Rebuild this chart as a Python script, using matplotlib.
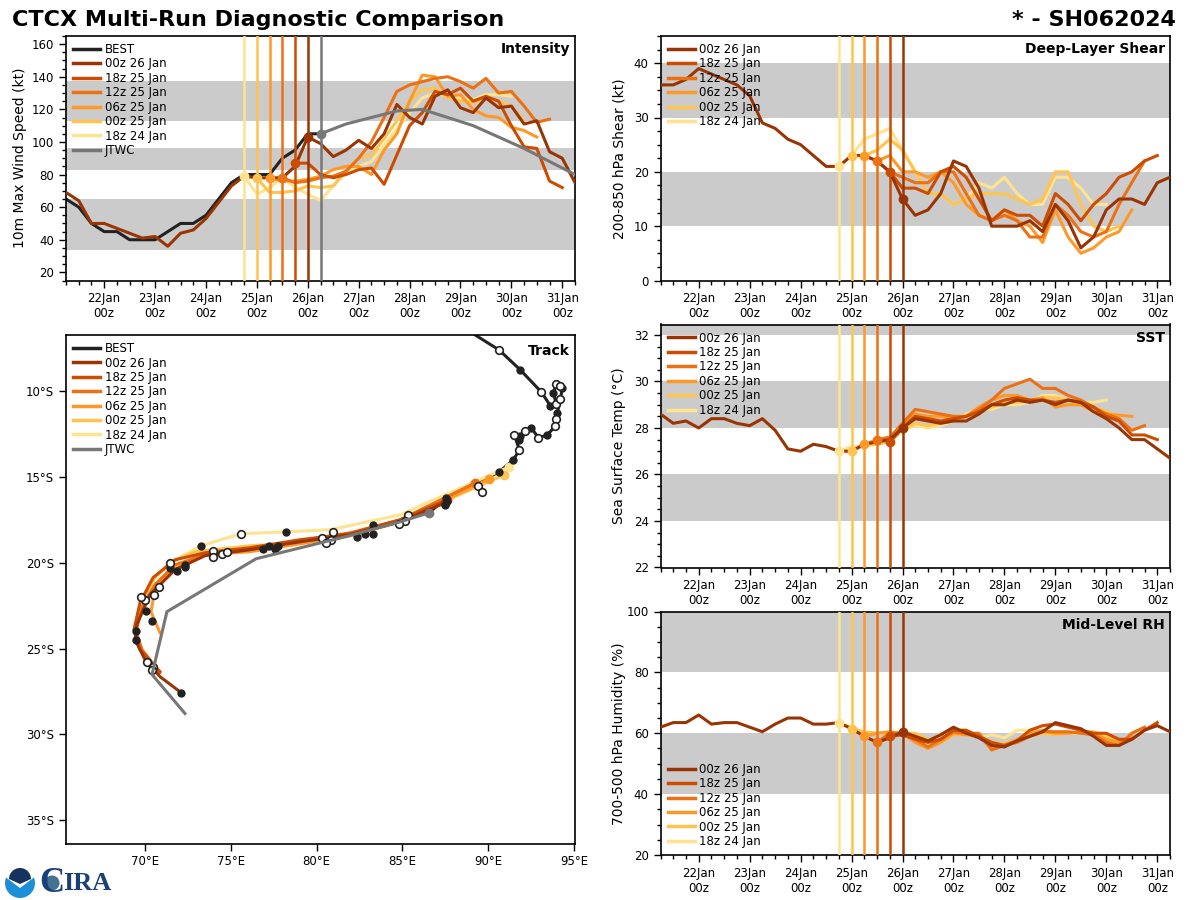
import numpy as np
import matplotlib
matplotlib.use('Agg')
import matplotlib.pyplot as plt
from matplotlib.patches import Circle, Wedge, Polygon
from matplotlib.ticker import MultipleLocator

# forecast runs, newest first
run_names = ['00z 26 Jan', '18z 25 Jan', '12z 25 Jan', '06z 25 Jan', '00z 25 Jan', '18z 24 Jan']
run_colors = ['#993404', '#cc4c02', '#ec7014', '#fe9929', '#fec44f', '#fee391']
run_starts = [21.25, 25.75, 25.5, 25.25, 25.0, 24.75]
run_inits = [26.0, 25.75, 25.5, 25.25, 25.0, 24.75]
day_ticks = [22, 23, 24, 25, 26, 27, 28, 29, 30, 31]

# intensity (kt)
best_vmax = [65, 60, 50, 45, 45, 40, 40, 40, 45, 50, 50, 55, 65, 75, 80, 80, 80, 90, 95, 105, 105]
jtwc_days = [26.25, 26.5, 26.75, 27.25, 27.75, 28.25, 29.25, 30.25, 31.25]
jtwc_vmax = [105, 108, 111, 115, 119, 120, 110, 96, 80]
vmax_runs = [
    [69, 64, 50, 50, 47, 44, 41, 42, 36, 44, 46, 53, 63, 73, 79, 78, 78, 78, 85, 103, 99, 91, 95, 101, 96,
     105, 123, 115, 111, 128, 132, 121, 118, 127, 121, 122, 111, 113, 94, 90, 75],
    [87, 87, 80, 78, 80, 83, 84, 74, 92, 110, 118, 131, 129, 133, 125, 128, 125, 110, 97, 96, 76, 72],
    [78, 75, 76, 78, 79, 82, 90, 100, 115, 131, 135, 137, 139, 140, 137, 133, 139, 130, 131, 122, 112, 114],
    [78, 76, 76, 77, 79, 83, 85, 85, 80, 95, 105, 125, 141, 140, 128, 129, 120, 116, 115, 109, 107, 103],
    [78, 69, 69, 70, 73, 72, 73, 82, 90, 92, 102, 113, 125, 132, 133, 127, 125, 124, 127, 125, 122, 113],
    [79, 68, 72, 78, 72, 68, 64, 73, 82, 85, 88, 98, 108, 118, 127, 130, 128, 127, 126, 129, 129, 128],
]

# deep layer shear (kt)
shear_runs = [
    [36, 36, 37, 39, 38, 37, 36, 34, 29, 28, 26, 25, 23, 21, 21, 23, 23, 22, 20, 15, 12, 13, 16, 22, 21,
     17, 10, 10, 10, 11, 9, 14, 11, 6, 8, 13, 15, 15, 14, 18, 19],
    [20, 17, 17, 16, 20, 21, 19, 15, 11, 13, 12, 12, 10, 16, 14, 11, 14, 16, 19, 20, 22, 23],
    [22, 20, 19, 18, 18, 20, 20, 16, 12, 11, 12, 11, 8, 8, 14, 12, 9, 8, 9, 14, 18, 22],
    [23, 22, 23, 20, 20, 19, 20, 18, 14, 12, 11, 13, 11, 10, 7, 13, 8, 5, 6, 8, 9, 13],
    [23, 23, 24, 26, 24, 20, 16, 16, 14, 15, 16, 16, 16, 15, 14, 15, 20, 20, 14, 10, 9, 10],
    [21, 23, 26, 27, 28, 24, 20, 16, 16, 14, 15, 18, 17, 19, 16, 14, 14, 19, 19, 17, 14, 14],
]

# sea surface temperature (C)
sst_runs = [
    [28.6, 28.2, 28.3, 28.0, 28.4, 28.4, 28.2, 28.1, 28.4, 27.9, 27.1, 27.0, 27.3, 27.2, 27.0, 27.0, 27.3,
     27.4, 27.5, 28.0, 28.4, 28.3, 28.2, 28.3, 28.3, 28.6, 29.0, 29.0, 29.2, 29.1, 29.2, 29.0, 29.2, 29.1,
     28.7, 28.4, 28.0, 27.5, 27.5, 27.1, 26.7],
    [27.4, 28.0, 28.5, 28.4, 28.3, 28.4, 28.5, 28.7, 29.0, 29.2, 29.3, 29.2, 29.2, 29.1, 29.2, 29.1, 28.9,
     28.5, 28.3, 27.7, 27.7, 27.5],
    [27.5, 27.6, 28.2, 28.8, 28.7, 28.6, 28.5, 28.5, 28.8, 29.2, 29.7, 29.9, 30.1, 29.7, 29.7, 29.4, 29.2,
     28.9, 28.6, 28.4, 27.9, 28.1],
    [27.3, 27.5, 27.6, 28.1, 28.6, 28.5, 28.5, 28.4, 28.5, 28.9, 29.2, 29.4, 29.4, 29.2, 29.3, 28.9, 29.0,
     29.0, 28.7, 28.6, 28.55, 28.5],
    [27.0, 27.3, 27.3, 27.4, 27.9, 28.2, 28.1, 28.2, 28.3, 28.5, 28.8, 28.9, 29.1, 29.1, 29.2, 29.3, 29.3,
     29.2, 29.0, 28.9, 28.7, 28.5],
    [27.0, 27.2, 27.2, 27.3, 27.6, 27.9, 28.1, 28.0, 28.1, 28.3, 28.6, 28.8, 28.8, 29.0, 29.0, 29.1, 29.4,
     29.4, 29.2, 29.1, 29.1, 29.2],
]

# mid level humidity (%)
rh_runs = [
    [62, 63.5, 63.5, 66, 63, 63.5, 63.5, 62, 60.5, 63, 65, 65, 63, 63, 63.5, 61.5, 59, 57, 58.5, 60.5, 59,
     57.5, 59.5, 62, 60, 58.5, 56, 55.5, 57.5, 59, 60.5, 63.5, 62.5, 61.5, 59, 56, 56, 58, 61, 62.5, 60.5],
    [59, 59.5, 58, 57, 58, 61, 61, 59, 57, 56, 57.5, 61, 62.5, 63, 62, 61, 60, 60, 58, 58, 61, 63.5],
    [57, 60, 60, 58, 55.5, 58, 60.5, 60, 60, 54.5, 56, 57, 59, 60.5, 60.5, 60.5, 60, 59.5, 57, 56, 60, 62],
    [59, 60, 60.5, 60, 57, 55, 57, 60, 59.5, 59.5, 55, 56, 58, 60, 61, 60, 60, 60.5, 60, 58, 57, 59],
    [61.5, 60.5, 60, 60, 60, 60, 58, 57, 59.5, 59.5, 59, 57, 56.5, 58, 59, 60, 59.5, 60, 60.5, 60.5, 59, 58],
    [63.5, 62, 60, 60, 60, 60, 59, 56, 60, 60, 60, 58.5, 59.5, 58.5, 61, 61, 61, 60, 60, 60, 60, 59],
]

# track positions
best_lon = [89.24, 90.64, 91.87, 93.09, 93.62, 93.96, 93.79, 93.96, 94.2, 94.31, 94.2, 94.02, 93.96, 93.91,
            93.44, 92.92, 92.51, 92.16, 91.81, 91.52, 91.81, 91.46, 90.64, 87.55, 86.56]
best_lat = [-6.74, -7.62, -8.78, -10.06, -10.87, -10.76, -10.12, -9.59, -9.71, -9.83, -10.47, -11.28, -11.63,
            -12.03, -12.56, -12.73, -12.15, -12.33, -12.85, -12.56, -13.43, -14.01, -14.71, -16.22, -17.09]
jtwc_lon = [86.56, 84.87, 81.66, 76.47, 71.28, 70.41, 72.33]
jtwc_lat = [-17.09, -17.62, -18.49, -19.77, -22.85, -26.51, -28.78]
track_lons = [
    [87.49, 84.87, 81.95, 79.04, 76.12, 73.5, 71.75, 70.29, 69.53, 69.42, 70.0, 70.87, 72.1],
    [87.61, 84.87, 81.95, 79.04, 76.12, 73.5, 71.75, 70.47, 69.71, 69.36, 69.71, 70.87],
    [89.24, 84.87, 81.95, 79.04, 76.12, 73.5, 71.75, 70.58, 69.83, 69.48, 69.83, 70.87],
    [90.06, 84.87, 81.95, 79.04, 76.12, 73.5, 71.57, 70.58, 70.35, 70.87],
    [90.93, 84.87, 81.95, 79.04, 76.12, 72.92, 71.57, 70.58, 70.0],
    [91.22, 87.2, 84.87, 80.79, 78.22, 75.6, 73.27, 71.46, 70.58],
]
track_lats = [
    [-16.51, -17.62, -18.37, -18.78, -19.24, -19.59, -20.41, -21.86, -23.6, -24.48, -25.64, -26.63, -27.56],
    [-16.34, -17.5, -18.31, -18.66, -19.13, -19.42, -19.83, -20.87, -22.33, -23.9, -25.06, -26.34],
    [-15.35, -17.5, -18.26, -18.72, -19.24, -19.53, -20.12, -21.28, -22.56, -24.01, -25.06, -26.4],
    [-15.12, -17.62, -18.43, -18.9, -19.36, -19.53, -20.41, -21.57, -22.85, -24.07],
    [-14.88, -17.56, -18.37, -18.84, -19.01, -19.36, -19.94, -20.87, -21.98],
    [-14.42, -16.16, -17.21, -18.08, -18.2, -18.31, -19.01, -20.0, -20.81],
]
dot_lon = [91.87, 93.62, 93.79, 94.31, 94.02, 93.44, 92.51, 91.81, 91.84, 91.46, 90.64, 87.55, 87.61, 87.49, 83.29,
           83.29, 82.83, 82.36, 78.22, 77.76, 77.58, 77.23, 76.88, 73.27, 72.33, 72.33, 71.87, 71.46, 70.06,
           70.41, 69.48, 69.48, 72.10]
dot_lat = [-8.78, -10.87, -10.12, -9.83, -11.28, -12.56, -12.15, -12.85, -12.62, -14.01, -14.71, -16.22, -16.40,
           -16.63, -17.79, -18.31, -18.31, -18.49, -18.20, -19.01, -19.19, -19.01, -19.19, -19.01, -20.12, -20.23,
           -20.47, -20.29, -22.79, -23.37, -23.95, -24.48, -27.56]
open_lon = [90.64, 93.09, 93.96, 93.96, 94.2, 94.2, 93.96, 93.91, 92.92, 92.16, 91.52, 91.81, 89.42, 89.65, 85.34,
            85.16, 84.81, 80.96, 80.85, 80.32, 80.55, 75.6, 73.97, 73.97, 74.49, 74.78, 71.46, 70.82, 70.52, 70.0,
            69.77, 70.12, 70.47, 70.41]
open_lat = [-7.62, -10.06, -10.76, -9.59, -9.71, -10.47, -11.63, -12.03, -12.73, -12.33, -12.56, -13.43, -15.52,
            -15.87, -17.21, -17.56, -17.73, -18.20, -18.66, -18.55, -18.84, -18.31, -19.30, -19.65, -19.48, -19.36,
            -20.0, -21.4, -21.86, -22.15, -21.98, -25.76, -26.05, -26.22]

BAND = '#cbcbcb'
BLACK = '#222222'
GRAY = '#777777'
LINE_W = 2.2
LEG_W = 2.5


def make_axes(x0, y0, x1, y1):
    return fig.add_axes([x0 / 1200, 1 - y1 / 900, (x1 - x0) / 1200, (y1 - y0) / 900])


def days(start, values):
    return start + 0.25 * np.arange(len(values))


def add_legend(ax, loc):
    ax.legend(loc=loc, frameon=False, fontsize=8.5, labelspacing=0.12, handlelength=2.3,
              borderaxespad=0.2, handletextpad=0.4)


def time_panel(ax, runs, bands, ylim, ymajor, yminor, ylabel, label_x, name, legend_loc='upper left', is_intensity=False):
    for lo, hi in bands:
        ax.axhspan(lo, hi, color=BAND, lw=0, zorder=0)
    if is_intensity:
        ax.plot(days(21.25, best_vmax), best_vmax, color=BLACK, lw=LINE_W, zorder=2)
        ax.plot([], [], color=BLACK, lw=LEG_W, label='BEST')
    for i in range(len(runs)):
        ax.plot([], [], color=run_colors[i], lw=LEG_W, label=run_names[i])
    for i in reversed(range(len(runs))):
        x = days(run_starts[i], runs[i])
        ax.axvline(run_inits[i], color=run_colors[i], lw=1.8, zorder=3)
        ax.plot(x, runs[i], color=run_colors[i], lw=LINE_W, zorder=3)
        ax.plot(run_inits[i], np.interp(run_inits[i], x, runs[i]), 'o', color=run_colors[i], ms=6, zorder=4)
    if is_intensity:
        ax.plot([], [], color=GRAY, lw=LEG_W, label='JTWC')
        ax.axvline(jtwc_days[0], color=GRAY, lw=1.8, zorder=3)
        ax.plot(jtwc_days, jtwc_vmax, color=GRAY, lw=LINE_W, zorder=3)
        ax.plot(jtwc_days[0], jtwc_vmax[0], 'o', color=GRAY, ms=6, zorder=4)
    ax.set_xlim(21.25, 31.25)
    ax.set_ylim(*ylim)
    ax.set_xticks(day_ticks)
    ax.set_xticklabels([f'{d}Jan\n00z' for d in day_ticks])
    ax.xaxis.set_minor_locator(MultipleLocator(0.25))
    ax.yaxis.set_major_locator(MultipleLocator(ymajor))
    ax.yaxis.set_minor_locator(MultipleLocator(yminor))
    ax.tick_params(labelsize=8.5, width=1, length=5)
    ax.tick_params(which='minor', width=1, length=3)
    ax.set_ylabel(ylabel, fontsize=10)
    ax.yaxis.set_label_coords(label_x, 0.5)
    for s in ax.spines.values():
        s.set_linewidth(1.2)
    add_legend(ax, legend_loc)
    ax.text(0.99, 0.975, name, transform=ax.transAxes, ha='right', va='top', fontsize=10, fontweight='bold')


fig = plt.figure(figsize=(12, 9), dpi=100)

fig.text(12 / 1200, 1 - 20 / 900, 'CTCX Multi-Run Diagnostic Comparison', fontsize=16, fontweight='bold', va='center')
fig.text(1176 / 1200, 1 - 20 / 900, '* - SH062024', fontsize=16, fontweight='bold', va='center', ha='right')

ax1 = make_axes(66, 36, 575, 280.5)
time_panel(ax1, vmax_runs, [(34, 65), (83, 96), (113, 137.5)], (15, 165), 20, 5,
           '10m Max Wind Speed (kt)', -0.0766, 'Intensity', is_intensity=True)

ax2 = make_axes(660.5, 36, 1170, 280.5)
time_panel(ax2, shear_runs, [(10, 20), (30, 40)], (0, 45), 10, 2.5,
           '200-850 hPa Shear (kt)', -0.0677, 'Deep-Layer Shear')

ax3 = make_axes(660.5, 324.5, 1170, 567.5)
time_panel(ax3, sst_runs, [(24, 26), (28, 30), (32, 34)], (22, 32.45), 2, 0.5,
           'Sea Surface Temp (°C)', -0.0677, 'SST')

ax4 = make_axes(660.5, 611.5, 1170, 855)
time_panel(ax4, rh_runs, [(40, 60), (80, 100)], (20, 100), 20, 5,
           '700-500 hPa Humidity (%)', -0.0677, 'Mid-Level RH', legend_loc='lower left')

# track panel
ax5 = make_axes(66, 335, 575, 843.5)
ax5.plot(best_lon, best_lat, color=BLACK, lw=LINE_W, zorder=2)
ax5.plot([], [], color=BLACK, lw=LEG_W, label='BEST')
for i in range(len(track_lons)):
    ax5.plot([], [], color=run_colors[i], lw=LEG_W, label=run_names[i])
for i in reversed(range(len(track_lons))):
    ax5.plot(track_lons[i], track_lats[i], color=run_colors[i], lw=LINE_W, zorder=3)
    ax5.plot(track_lons[i][0], track_lats[i][0], 'o', color=run_colors[i], ms=6, zorder=3)
ax5.plot(jtwc_lon, jtwc_lat, color=GRAY, lw=LINE_W, zorder=5)
ax5.plot([], [], color=GRAY, lw=LEG_W, label='JTWC')
ax5.plot(jtwc_lon[0], jtwc_lat[0], 'o', color=GRAY, ms=6, zorder=6)
ax5.plot(dot_lon, dot_lat, 'o', color=BLACK, ms=6, mew=0, zorder=4)
ax5.plot(open_lon, open_lat, 'o', mfc='white', mec=BLACK, ms=5.5, mew=1.2, zorder=4)
ax5.set_xlim(65.4, 95.05)
ax5.set_ylim(-36.35, -6.74)
ax5.set_xticks([70, 75, 80, 85, 90, 95])
ax5.set_xticklabels([f'{v}°E' for v in [70, 75, 80, 85, 90, 95]])
ax5.set_yticks([-10, -15, -20, -25, -30, -35])
ax5.set_yticklabels([f'{-v}°S' for v in [-10, -15, -20, -25, -30, -35]])
ax5.tick_params(labelsize=8.5, width=1, length=5)
for s in ax5.spines.values():
    s.set_linewidth(1.2)
add_legend(ax5, 'upper left')
ax5.text(0.99, 0.982, 'Track', transform=ax5.transAxes, ha='right', va='top', fontsize=10, fontweight='bold')

# NOAA / CIRA logo, drawn roughly in pixel coordinates
logo = fig.add_axes([0, 0, 1, 1], zorder=10)
logo.set_xlim(0, 1200)
logo.set_ylim(900, 0)
logo.axis('off')
logo.add_patch(Circle((20, 883), 15, color='#1c8fd6', lw=0))
logo.add_patch(Polygon([(4, 866), (36, 866), (36, 876), (20, 888), (4, 876)], color='white', lw=0))
logo.add_patch(Wedge((20, 879), 11, 180, 360, color='#16335f', lw=0))
logo.add_patch(Polygon([(9, 879), (31, 879), (20, 884)], color='#16335f', lw=0))
logo.text(39, 883, 'C', fontsize=25, fontweight='bold', family='Liberation Serif', color='#1b3f78', va='center')
logo.add_patch(Circle((52, 883), 7.5, color='#3f7390', lw=0))
logo.text(63, 883, 'IRA', fontsize=19, fontweight='bold', family='Liberation Serif', color='#1b3f78', va='center')

fig.savefig('out.png', dpi=100)
